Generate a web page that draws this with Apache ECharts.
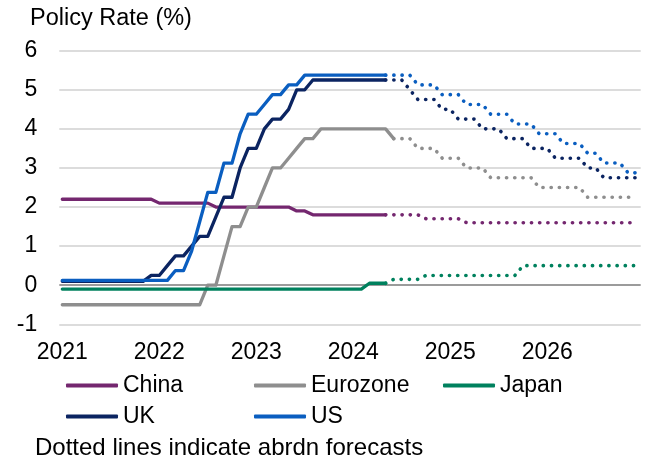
<!DOCTYPE html>
<html>
<head>
<meta charset="utf-8">
<script src="https://cdn.jsdelivr.net/npm/echarts@6/dist/echarts.min.js"></script>
<style>
  html, body { margin: 0; padding: 0; background: #ffffff; }
  #chart { width: 647px; height: 459px; }
</style>
</head>
<body>
<div id="chart"></div>
<script>
// Monthly policy rates, Jan 2021 onward (actuals) and abrdn forecasts to Dec 2026
const firstYear = 2021;
const yearLabels = ['2021', '2022', '2023', '2024', '2025', '2026'];
const yTicks = [-1, 0, 1, 2, 3, 4, 5, 6];

const actualStart = '2021-01';

const chinaActual = [
  2.2, 2.2, 2.2, 2.2, 2.2, 2.2, 2.2, 2.2, 2.2, 2.2, 2.2, 2.2,
  2.1, 2.1, 2.1, 2.1, 2.1, 2.1, 2.1, 2.0, 2.0, 2.0, 2.0, 2.0,
  2.0, 2.0, 2.0, 2.0, 2.0, 1.9, 1.9, 1.8, 1.8, 1.8, 1.8, 1.8,
  1.8, 1.8, 1.8, 1.8, 1.8
];
const eurozoneActual = [
  -0.5, -0.5, -0.5, -0.5, -0.5, -0.5, -0.5, -0.5, -0.5, -0.5, -0.5, -0.5,
  -0.5, -0.5, -0.5, -0.5, -0.5, -0.5, 0, 0, 0.75, 1.5, 1.5, 2.0,
  2.0, 2.5, 3.0, 3.0, 3.25, 3.5, 3.75, 3.75, 4.0, 4.0, 4.0, 4.0,
  4.0, 4.0, 4.0, 4.0, 4.0, 3.75
];
const japanActual = [
  -0.1, -0.1, -0.1, -0.1, -0.1, -0.1, -0.1, -0.1, -0.1, -0.1, -0.1, -0.1,
  -0.1, -0.1, -0.1, -0.1, -0.1, -0.1, -0.1, -0.1, -0.1, -0.1, -0.1, -0.1,
  -0.1, -0.1, -0.1, -0.1, -0.1, -0.1, -0.1, -0.1, -0.1, -0.1, -0.1, -0.1,
  -0.1, -0.1, 0.05, 0.05, 0.05
];
const ukActual = [
  0.1, 0.1, 0.1, 0.1, 0.1, 0.1, 0.1, 0.1, 0.1, 0.1, 0.1, 0.25,
  0.25, 0.5, 0.75, 0.75, 1.0, 1.25, 1.25, 1.75, 2.25, 2.25, 3.0, 3.5,
  3.5, 4.0, 4.25, 4.25, 4.5, 5.0, 5.0, 5.25, 5.25, 5.25, 5.25, 5.25,
  5.25, 5.25, 5.25, 5.25, 5.25
];
const usActual = [
  0.125, 0.125, 0.125, 0.125, 0.125, 0.125, 0.125, 0.125, 0.125, 0.125, 0.125, 0.125,
  0.125, 0.125, 0.375, 0.375, 0.875, 1.625, 2.375, 2.375, 3.125, 3.125, 3.875, 4.375,
  4.375, 4.625, 4.875, 4.875, 5.125, 5.125, 5.375, 5.375, 5.375, 5.375, 5.375, 5.375,
  5.375, 5.375, 5.375, 5.375, 5.375
];

// Forecast paths (dotted), each starting from the last actual month
const forecastStart = '2024-05';
const eurozoneForecastStart = '2024-06';

const chinaForecast = [
  1.8, 1.8, 1.8, 1.8, 1.8, 1.7, 1.7, 1.7, 1.7, 1.7, 1.6, 1.6,
  1.6, 1.6, 1.6, 1.6, 1.6, 1.6, 1.6, 1.6, 1.6, 1.6, 1.6, 1.6,
  1.6, 1.6, 1.6, 1.6, 1.6, 1.6, 1.6, 1.6
];
const eurozoneForecast = [
  3.75, 3.75, 3.75, 3.5, 3.5, 3.5, 3.25, 3.25, 3.25, 3.0, 3.0, 3.0,
  2.75, 2.75, 2.75, 2.75, 2.75, 2.75, 2.5, 2.5, 2.5, 2.5, 2.5, 2.5,
  2.25, 2.25, 2.25, 2.25, 2.25, 2.25, 2.25
];
const japanForecast = [
  0.05, 0.15, 0.15, 0.15, 0.15, 0.25, 0.25, 0.25, 0.25, 0.25, 0.25, 0.25,
  0.25, 0.25, 0.25, 0.25, 0.25, 0.5, 0.5, 0.5, 0.5, 0.5, 0.5, 0.5,
  0.5, 0.5, 0.5, 0.5, 0.5, 0.5, 0.5, 0.5
];
const ukForecast = [
  5.25, 5.25, 5.25, 5.0, 4.75, 4.75, 4.75, 4.5, 4.5, 4.25, 4.25, 4.25,
  4.0, 4.0, 4.0, 3.75, 3.75, 3.75, 3.5, 3.5, 3.5, 3.25, 3.25, 3.25,
  3.25, 3.0, 3.0, 2.75, 2.75, 2.75, 2.75, 2.75
];
const usForecast = [
  5.375, 5.375, 5.375, 5.375, 5.125, 5.125, 5.125, 4.875, 4.875, 4.875, 4.625, 4.625,
  4.625, 4.375, 4.375, 4.375, 4.125, 4.125, 4.125, 3.875, 3.875, 3.875, 3.625, 3.625,
  3.625, 3.375, 3.375, 3.125, 3.125, 3.125, 2.875, 2.875
];

const colors = {
  China: '#74276f',
  Eurozone: '#8e8e8e',
  Japan: '#00815e',
  UK: '#0b2461',
  US: '#0a5ec0'
};

const FONT = "'Liberation Sans', Arial, sans-serif";
const FONT_SIZE = 23;

// month index counted from Jan of the first year
function monthIndex(ym) {
  const [y, m] = ym.split('-').map(Number);
  return (y - firstYear) * 12 + (m - 1);
}
function points(start, values) {
  const s = monthIndex(start);
  return values.map((v, k) => [s + k, v]);
}

function actualSeries(name, start, values) {
  return {
    name, type: 'line', data: points(start, values),
    showSymbol: false, symbol: 'none', animation: false,
    lineStyle: { color: colors[name], width: 3.3, cap: 'round', join: 'round' },
    itemStyle: { color: colors[name] }
  };
}
function forecastSeries(name, start, values) {
  return {
    name: name + ' forecast', type: 'line', data: points(start, values),
    showSymbol: false, symbol: 'none', animation: false,
    lineStyle: { color: colors[name], width: 3.6, type: [0.2, 8.0], cap: 'round', join: 'round' },
    itemStyle: { color: colors[name] }
  };
}

const legendSlots = [
  { name: 'China', left: 66, top: 374 },
  { name: 'Eurozone', left: 254, top: 374 },
  { name: 'Japan', left: 443, top: 374 },
  { name: 'UK', left: 66, top: 405 },
  { name: 'US', left: 254, top: 405 }
];

const chart = echarts.init(document.getElementById('chart'), null, { renderer: 'canvas' });

chart.setOption({
  animation: false,
  backgroundColor: '#ffffff',
  textStyle: { fontFamily: FONT },
  grid: { left: 59.3, right: 6.3, top: 50.7, bottom: 134.7, containLabel: false },
  xAxis: {
    type: 'value',
    min: -0.37,
    max: 71.56,
    axisLine: { show: false },
    axisTick: { show: false },
    splitLine: { show: false },
    axisLabel: {
      customValues: yearLabels.map((_, k) => k * 12),
      formatter: (v) => yearLabels[Math.round(v / 12)],
      color: '#000', fontSize: FONT_SIZE, fontFamily: FONT, margin: 17
    }
  },
  yAxis: {
    type: 'value',
    min: -1, max: 6, interval: 1,
    axisLine: { show: false },
    axisTick: { show: false },
    axisLabel: {
      color: '#000', fontSize: FONT_SIZE, fontFamily: FONT, margin: 22,
      formatter: (v) => String(v)
    },
    splitLine: {
      show: true,
      lineStyle: {
        color: yTicks.map(t => (t === 0 ? '#7a7a7a' : '#d0d0d0')),
        width: 1.5
      }
    }
  },
  legend: legendSlots.map(s => ({
    data: [s.name],
    left: s.left, top: s.top,
    padding: 0,
    itemWidth: 52, itemHeight: 4, itemGap: 0,
    icon: 'roundRect',
    selectedMode: false,
    textStyle: { color: '#000', fontSize: FONT_SIZE, fontFamily: FONT, padding: [0, 0, 0, 0] }
  })),
  graphic: [
    {
      type: 'text', left: 30, top: 7,
      style: { text: 'Policy Rate (%)', font: '23.5px ' + FONT, fill: '#000' }
    },
    {
      type: 'text', left: 35, top: 436,
      style: { text: 'Dotted lines indicate abrdn forecasts', font: '24px ' + FONT, fill: '#000' }
    }
  ],
  series: [
    actualSeries('China', actualStart, chinaActual),
    actualSeries('Eurozone', actualStart, eurozoneActual),
    actualSeries('Japan', actualStart, japanActual),
    actualSeries('UK', actualStart, ukActual),
    actualSeries('US', actualStart, usActual),
    forecastSeries('China', forecastStart, chinaForecast),
    forecastSeries('Eurozone', eurozoneForecastStart, eurozoneForecast),
    forecastSeries('Japan', forecastStart, japanForecast),
    forecastSeries('UK', forecastStart, ukForecast),
    forecastSeries('US', forecastStart, usForecast)
  ]
});
</script>
</body>
</html>
